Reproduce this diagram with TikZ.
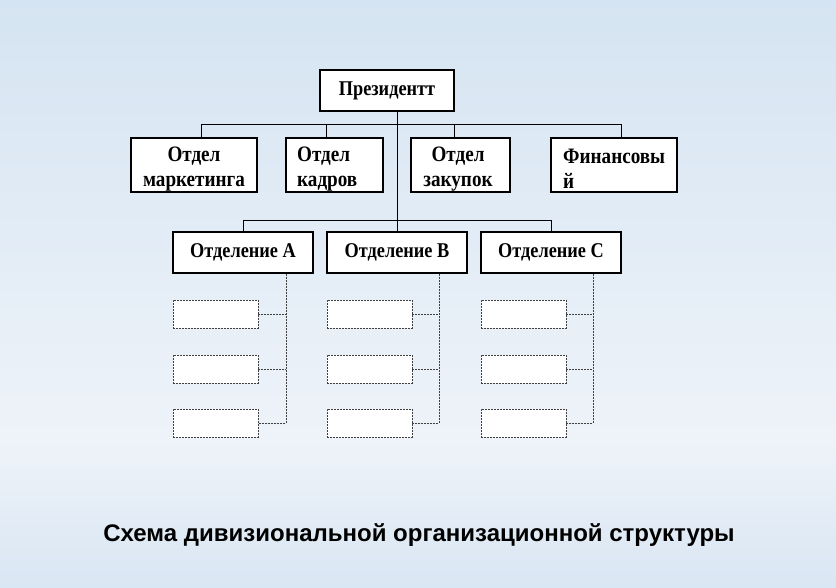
\documentclass[tikz,border=0pt]{standalone}
\usepackage{fontspec}
\setmainfont{Liberation Serif}
\newfontfamily\capfont{Liberation Sans}
\newfontfamily\boxfont{Liberation Serif Bold}[FakeStretch=0.87]
\definecolor{bgtop}{HTML}{D5E4F2}
\definecolor{bgmid}{HTML}{EEF3F9}
\definecolor{bgbot}{HTML}{D9E6F3}
\definecolor{dashgray}{HTML}{404040}
\begin{document}
\begin{tikzpicture}[x=1pt,y=-1pt,
  frame/.style={draw=black, line width=1.1pt, fill=white, rectangle, inner sep=0pt},
  dtext/.style={inner sep=0pt, font=\boxfont\fontsize{22}{24.5}\selectfont},
  sbox/.style={frame, font=\boxfont\fontsize{21}{24}\selectfont},
  sub/.style={draw=dashgray, line width=0.9pt, dash pattern=on 2pt off 1pt, fill=white,
    rectangle, inner sep=0pt, minimum width=85pt, minimum height=28pt},
  conn/.style={draw=black, line width=0.9pt},
  dconn/.style={draw=dashgray, line width=0.9pt, dash pattern=on 2pt off 1pt}]
\useasboundingbox (0,0) rectangle (836,587);
\shade[top color=bgtop, bottom color=bgmid] (0,0) rectangle (836,440);
\shade[top color=bgmid, bottom color=bgbot] (0,440) rectangle (836,587);

% president
\node[sbox, minimum width=134pt, minimum height=41pt] (p) at (387,90.5) {Президентт};

% departments
\node[frame, minimum width=126pt, minimum height=54pt] (m1) at (194,165) {};
\node[frame, minimum width=97pt, minimum height=54pt] (m2) at (334.5,165) {};
\node[frame, minimum width=99pt, minimum height=54pt] (m3) at (460.5,165) {};
\node[frame, minimum width=126pt, minimum height=54pt] (m4) at (614,165) {};
\node[dtext, align=center] (m1t) at (194,169) {Отдел\\маркетинга};
\node[dtext, align=left, anchor=west] (m2t) at (297,169) {Отдел\\кадров};
\node[dtext, align=center] (m3t) at (458,169) {Отдел\\закупок};
\node[dtext, align=left, anchor=west] (m4t) at (563,169) {Финансовы\\й};

% divisions
\node[sbox, minimum width=140pt, minimum height=41pt] (dA) at (243,252.5) {Отделение А};
\node[sbox, minimum width=140pt, minimum height=41pt] (dB) at (397,252.5) {Отделение В};
\node[sbox, minimum width=140pt, minimum height=41pt] (dC) at (551,252.5) {Отделение С};

% top bus
\coordinate (b1) at (201,124);
\coordinate (b2) at (326,124);
\coordinate (b3) at (454,124);
\coordinate (b4) at (621,124);
\draw[conn] (b1 |- m1.north) -- (b1) -- (b4) -- (b4 |- m4.north);
\draw[conn] (b2) -- (b2 |- m2.north);
\draw[conn] (b3) -- (b3 |- m3.north);
\draw[conn] (p.south -| dB.north) -- (dB.north);
% division bus
\coordinate (c1) at (243,220);
\coordinate (c3) at (551,220);
\draw[conn] (dA.north) -- (c1) -- (c3) -- (dC.north);

% sub units
\foreach \d/\x/\v in {A/215.5/286, B/369.5/439, C/523.5/593}{
  \node[sub] (s\d1) at (\x,314) {};
  \node[sub] (s\d2) at (\x,369) {};
  \node[sub] (s\d3) at (\x,423) {};
  \coordinate (v\d) at (\v,423);
  \draw[dconn] (d\d.south -| v\d) -- (v\d) -- (s\d3.east);
  \draw[dconn] (s\d1.east) -- (s\d1.east -| v\d);
  \draw[dconn] (s\d2.east) -- (s\d2.east -| v\d);
}

% caption
\node[font=\capfont\fontsize{24}{28}\selectfont\bfseries] (cap) at (419,535) {Схема дивизиональной организационной структуры};
\end{tikzpicture}
\end{document}
